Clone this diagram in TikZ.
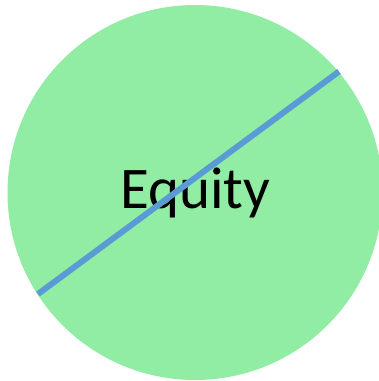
\documentclass[tikz,border=0pt]{standalone}
\usepackage{fontspec}
\setmainfont{Carlito}
\definecolor{fillgreen}{RGB}{145,237,163}
\definecolor{lineblue}{RGB}{91,155,213}
\begin{document}
\begin{tikzpicture}[x=1pt,y=1pt]
\useasboundingbox (0,0) rectangle (379,381);
\begin{scope}
\clip (0,0) rectangle (379,381);
\fill[fillgreen] (195,188.5) circle (187.5);
\end{scope}
\coordinate (a) at (38,87);
\coordinate (b) at (339,309.5);
\node[anchor=base, font=\fontsize{59}{70}\selectfont, inner sep=0pt] (t) at (195.5,172) {Equity};
\draw[lineblue, line width=6pt] (a) -- (b);
\end{tikzpicture}
\end{document}
